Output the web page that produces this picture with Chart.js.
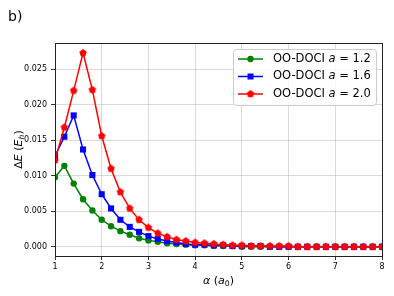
<!DOCTYPE html>
<html><head><meta charset="utf-8">
<script src="https://cdn.jsdelivr.net/npm/chart.js@4"></script>
<style>html,body{margin:0;padding:0;background:#fff}#wrap{width:394px;height:296px}</style>
</head><body><div id="wrap"><canvas id="c" width="394" height="296"></canvas></div>
<script>
// alpha grid (a0) and energy differences (Eh)
const ALPHA = [1.0,1.2,1.4,1.6,1.8,2.0,2.2,2.4,2.6,2.8,3.0,3.2,3.4,3.6,3.8,4.0,
  4.2,4.4,4.6,4.8,5.0,5.2,5.4,5.6,5.8,6.0,6.2,6.4,6.6,6.8,7.0,7.2,7.4,7.6,7.8,8.0];
const DE_A12 = [0.0098,0.0114,0.0089,0.0067,0.0051,0.0038,0.0029,0.0022,0.0017,0.0012,0.0009,0.0007,0.0005,0.0004,0.0003,0.0002,
  0.0002,0.0001,0.0001,0.0001,0,0,0,0,0,0,0,0,0,0,0,0,0,0,0,0];
const DE_A16 = [0.0128,0.0155,0.0185,0.0137,0.0101,0.0074,0.0054,0.0038,0.0028,0.0021,0.0015,0.0011,0.0008,0.0006,0.0004,0.0003,
  0.0003,0.0002,0.0002,0.0001,0.0001,0.0001,0.0001,0,0,0,0,0,0,0,0,0,0,0,0,0];
const DE_A20 = [0.0122,0.0168,0.0220,0.0273,0.0221,0.0156,0.0110,0.0077,0.0054,0.0038,0.0027,0.0019,0.0014,0.0010,0.0008,0.0006,
  0.0005,0.0004,0.0003,0.0002,0.0002,0.0001,0.0001,0.0001,0.0001,0.0001,0,0,0,0,0,0,0,0,0,0];
const X_TICKS = [1,2,3,4,5,6,7,8];
const Y_TICKS = [0,0.005,0.010,0.015,0.020,0.025];
const LABELS = ['1.2','1.6','2.0'];

const GREEN = '#008000', BLUE = '#0000ff', RED = '#ff0000';
const FONT = 'DejaVu Sans';

function pts(ys) { return ys.map((y, i) => ({ x: ALPHA[i], y })); }

function pentagon(r, color) {
  const cv = document.createElement('canvas');
  const s = Math.ceil(r * 2 + 2);
  cv.width = s; cv.height = s;
  const g = cv.getContext('2d');
  g.fillStyle = color;
  g.beginPath();
  for (let k = 0; k < 5; k++) {
    const a = -Math.PI / 2 + k * 2 * Math.PI / 5;
    g.lineTo(s / 2 + r * Math.cos(a), s / 2 + r * Math.sin(a));
  }
  g.closePath(); g.fill();
  return cv;
}
const PENT = pentagon(3.9, RED);

// draw mixed normal/italic text, segments: [text, italic, sub]
function drawMixed(ctx, segs, cx, cy, size) {
  const fontOf = s => (s[1] ? 'italic ' : '') + (s[2] ? size * 0.7 : size) + 'px ' + FONT;
  let w = 0;
  segs.forEach(s => { ctx.font = fontOf(s); w += ctx.measureText(s[0]).width; });
  let x = cx - w / 2;
  ctx.textBaseline = 'middle';
  ctx.textAlign = 'left';
  segs.forEach(s => {
    ctx.font = fontOf(s);
    ctx.fillText(s[0], x, cy + (s[2] ? size * 0.25 : 0));
    x += ctx.measureText(s[0]).width;
  });
}

const decor = {
  id: 'decor',
  afterDraw(chart) {
    const { ctx, chartArea: a } = chart;
    ctx.save();
    ctx.strokeStyle = '#222'; ctx.lineWidth = 1;
    ctx.strokeRect(a.left + 0.5, a.top + 0.5, a.right - a.left, a.bottom - a.top);
    ctx.fillStyle = '#000';
    // panel tag
    ctx.font = '14px ' + FONT; ctx.textBaseline = 'middle'; ctx.textAlign = 'left';
    ctx.fillText('b)', 8, 17);
    // axis titles
    drawMixed(ctx, [['\u03b1', true], [' (', false], ['a', true], ['0', false, true], [')', false]], (a.left + a.right) / 2, 281, 11);
    ctx.save();
    ctx.translate(19, (a.top + a.bottom) / 2);
    ctx.rotate(-Math.PI / 2);
    drawMixed(ctx, [['\u0394', false], ['E', true], [' (', false], ['E', true], ['h', true, true], [')', false]], 0, 0, 11);
    ctx.restore();
    // legend
    const bx = 233, by = 49, bw = 143, bh = 56;
    ctx.beginPath();
    ctx.roundRect(bx + 0.5, by + 0.5, bw, bh, 3);
    ctx.fillStyle = 'rgba(255,255,255,0.85)'; ctx.fill();
    ctx.strokeStyle = '#cccccc'; ctx.stroke();
    const cols = [GREEN, BLUE, RED];
    cols.forEach((c, i) => {
      const y = by + 10 + i * 17.5;
      ctx.strokeStyle = c; ctx.lineWidth = 1.5;
      ctx.beginPath(); ctx.moveTo(238, y); ctx.lineTo(263, y); ctx.stroke();
      ctx.fillStyle = c;
      if (i === 0) { ctx.beginPath(); ctx.arc(250.5, y, 3.2, 0, 2 * Math.PI); ctx.fill(); }
      else if (i === 1) ctx.fillRect(247.5, y - 3, 6, 6);
      else ctx.drawImage(PENT, 250.5 - PENT.width / 2, y - PENT.height / 2);
      ctx.fillStyle = '#000';
      const segs = [['OO-DOCI ', false], ['a', true], [' = ' + LABELS[i], false]];
      let w = 0;
      segs.forEach(s => { ctx.font = (s[1] ? 'italic ' : '') + '11.5px ' + FONT; w += ctx.measureText(s[0]).width; });
      drawMixed(ctx, segs, 273 + w / 2, y, 11.5);
    });
    ctx.restore();
  }
};

new Chart(document.getElementById('c'), {
  type: 'line',
  data: {
    datasets: [
      { label: 'OO-DOCI a = 1.2', data: pts(DE_A12), borderColor: GREEN, backgroundColor: GREEN,
        borderWidth: 1.5, pointStyle: 'circle', pointRadius: 3.2, pointBorderWidth: 0, order: 3 },
      { label: 'OO-DOCI a = 1.6', data: pts(DE_A16), borderColor: BLUE, backgroundColor: BLUE,
        borderWidth: 1.5, pointStyle: 'rect', pointRadius: 4.3, pointBorderWidth: 0, order: 2 },
      { label: 'OO-DOCI a = 2.0', data: pts(DE_A20), borderColor: RED, backgroundColor: RED,
        borderWidth: 1.5, pointStyle: PENT, pointRadius: 4, pointBorderWidth: 0, order: 1 }
    ]
  },
  options: {
    responsive: false,
    animation: false,
    events: [],
    layout: { padding: { left: 0, right: 12, top: 43, bottom: 0 } },
    plugins: { legend: { display: false }, tooltip: { enabled: false } },
    scales: {
      x: {
        type: 'linear', min: 1, max: 8,
        afterBuildTicks: s => { s.ticks = X_TICKS.map(v => ({ value: v })); },
        afterFit: s => { s.height = 40; },
        grid: { color: 'rgba(176,176,176,0.6)', lineWidth: 0.8, tickColor: '#000', tickLength: 4, tickWidth: 0.8 },
        border: { display: false },
        ticks: { color: '#000', padding: 2, maxRotation: 0, font: { family: FONT, size: 8 } }
      },
      y: {
        min: -0.0013, max: 0.0287,
        afterBuildTicks: s => { s.ticks = Y_TICKS.map(v => ({ value: v })); },
        afterFit: s => { s.width = 55; },
        grid: { color: 'rgba(176,176,176,0.6)', lineWidth: 0.8, tickColor: '#000', tickLength: 4, tickWidth: 0.8 },
        border: { display: false },
        ticks: { color: '#000', padding: 4, font: { family: FONT, size: 8 }, callback: v => v.toFixed(3) }
      }
    }
  },
  plugins: [decor]
});
</script>
</body></html>
